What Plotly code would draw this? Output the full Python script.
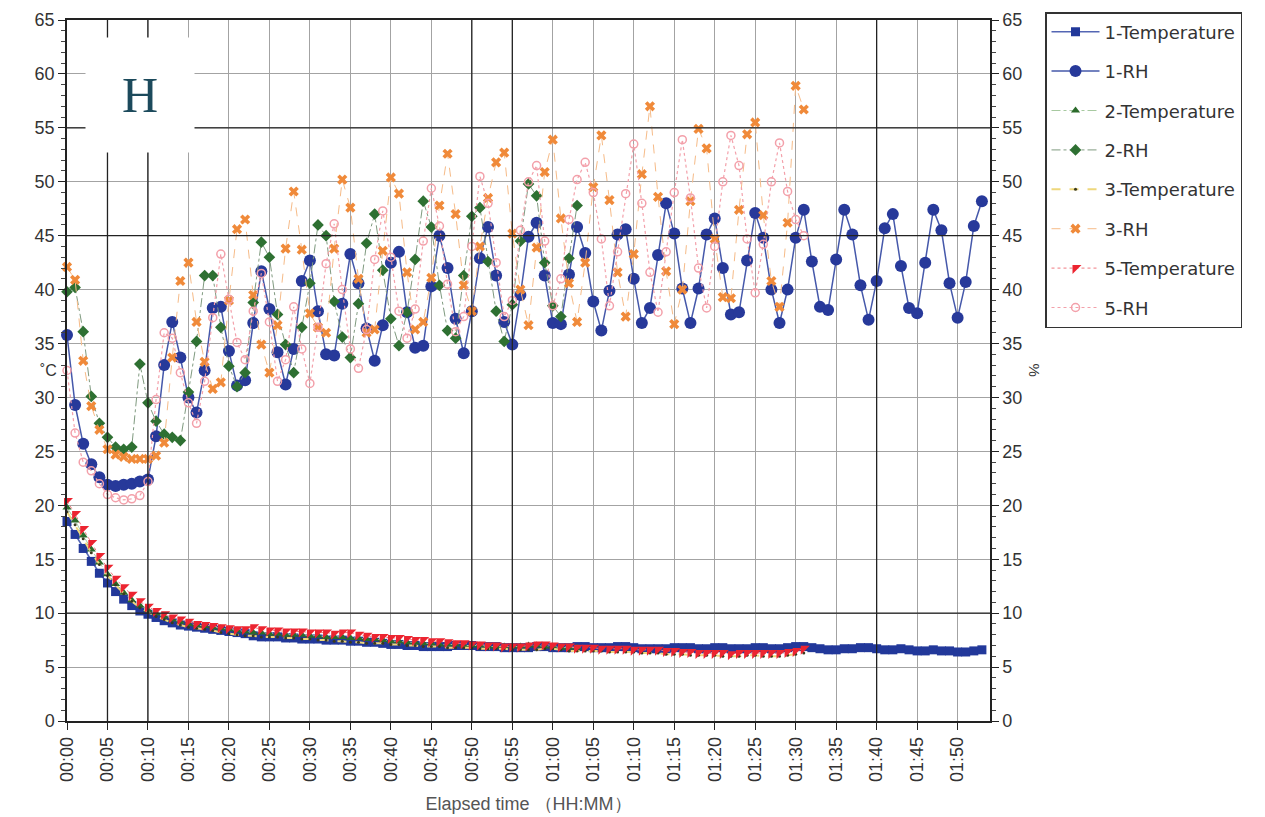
import plotly.graph_objects as go

# Elapsed time in minutes for each sample
minutes_full = list(range(0, 114))
minutes_2 = list(range(0, 64))
minutes_35 = list(range(0, 92))

tick_minutes = [0, 5, 10, 15, 20, 25, 30, 35, 40, 45, 50, 55,
                60, 65, 70, 75, 80, 85, 90, 95, 100, 105, 110]
tick_labels = ["00:00", "00:05", "00:10", "00:15", "00:20", "00:25", "00:30",
               "00:35", "00:40", "00:45", "00:50", "00:55", "01:00", "01:05",
               "01:10", "01:15", "01:20", "01:25", "01:30", "01:35", "01:40",
               "01:45", "01:50"]
y_ticks = [0, 5, 10, 15, 20, 25, 30, 35, 40, 45, 50, 55, 60, 65]

# Sensor 1
temp_1 = [18.5, 17.3, 16.0, 14.8, 13.7, 12.8, 12.0, 11.3, 10.7, 10.2,
          9.9, 9.6, 9.3, 9.1, 8.9, 8.8, 8.7, 8.6, 8.5, 8.4,
          8.3, 8.2, 8.1, 7.9, 7.8, 7.8, 7.8, 7.7, 7.7, 7.6,
          7.6, 7.6, 7.5, 7.5, 7.5, 7.4, 7.4, 7.3, 7.3, 7.2,
          7.1, 7.1, 7.0, 7.0, 6.9, 6.9, 6.9, 6.9, 7.0, 7.0,
          7.0, 6.9, 6.9, 6.9, 6.8, 6.8, 6.8, 6.8, 6.9, 6.9,
          6.8, 6.8, 6.8, 6.9, 6.9, 6.8, 6.8, 6.8, 6.9, 6.9,
          6.8, 6.7, 6.7, 6.7, 6.7, 6.8, 6.8, 6.8, 6.7, 6.7,
          6.8, 6.8, 6.7, 6.7, 6.7, 6.8, 6.8, 6.7, 6.7, 6.8,
          6.9, 6.9, 6.8, 6.7, 6.6, 6.6, 6.7, 6.7, 6.8, 6.8,
          6.7, 6.6, 6.6, 6.7, 6.6, 6.5, 6.5, 6.6, 6.5, 6.5,
          6.4, 6.4, 6.5, 6.6]
rh_1 = [35.8, 29.3, 25.7, 23.8, 22.6, 21.9, 21.8, 21.9, 22.0, 22.2,
        22.4, 26.4, 33.0, 37.0, 33.7, 30.0, 28.6, 32.5, 38.3, 38.4,
        34.3, 31.1, 31.6, 36.9, 41.7, 38.2, 34.2, 31.2, 34.5, 40.8,
        42.7, 38.0, 34.0, 33.9, 38.7, 43.3, 40.6, 36.4, 33.4, 36.7,
        42.5, 43.5, 37.9, 34.6, 34.8, 40.3, 45.0, 42.0, 37.3, 34.1,
        38.0, 42.9, 45.8, 41.3, 37.0, 34.9, 39.5, 44.9, 46.2, 41.3,
        36.9, 36.8, 41.4, 45.8, 43.4, 38.9, 36.2, 39.9, 45.1, 45.6,
        41.0, 36.9, 38.3, 43.2, 48.0, 45.2, 40.1, 36.9, 40.1, 45.1,
        46.6, 42.0, 37.7, 37.9, 42.7, 47.1, 44.8, 40.0, 36.9, 40.0,
        44.8, 47.4, 42.6, 38.4, 38.1, 42.8, 47.4, 45.1, 40.4, 37.2,
        40.8, 45.7, 47.0, 42.2, 38.3, 37.8, 42.5, 47.4, 45.5, 40.6,
        37.4, 40.7, 45.9, 48.2]

# Sensor 2
temp_2 = [19.8, 18.6, 17.2, 15.9, 14.7, 13.6, 12.7, 11.9, 11.2, 10.7,
          10.3, 10.0, 9.7, 9.4, 9.2, 9.0, 8.9, 8.8, 8.7, 8.6,
          8.5, 8.4, 8.3, 8.2, 8.2, 8.1, 8.1, 8.0, 8.0, 8.0,
          7.9, 7.9, 7.8, 7.8, 7.8, 7.7, 7.7, 7.6, 7.6, 7.5,
          7.4, 7.4, 7.3, 7.3, 7.2, 7.2, 7.1, 7.1, 7.1, 7.0,
          7.0, 7.0, 6.9, 6.9, 6.9, 6.9, 6.9, 7.0, 7.0, 6.9,
          6.9, 6.8, 6.8, 6.8]
rh_2 = [39.8, 40.2, 36.1, 30.1, 27.6, 26.3, 25.4, 25.2, 25.4, 33.1,
        29.5, 27.8, 26.6, 26.3, 26.0, 30.5, 35.2, 41.3, 41.3, 36.5,
        32.9, 31.0, 32.3, 38.8, 44.4, 43.0, 37.7, 34.9, 32.3, 36.5,
        40.6, 46.0, 45.0, 38.9, 35.6, 33.7, 38.7, 44.3, 47.0, 41.8,
        37.3, 34.8, 37.9, 42.8, 48.2, 45.8, 40.4, 36.2, 35.5, 41.3,
        46.8, 47.6, 42.6, 38.0, 35.2, 38.6, 44.5, 49.8, 48.7, 42.5,
        38.5, 37.5, 42.9, 47.8]

# Sensor 3
temp_3 = [19.4, 18.2, 16.9, 15.6, 14.5, 13.5, 12.6, 11.8, 11.1, 10.5,
          10.1, 9.7, 9.4, 9.1, 8.9, 8.7, 8.6, 8.5, 8.4, 8.2,
          8.1, 8.0, 7.9, 7.9, 7.8, 7.8, 7.8, 7.7, 7.7, 7.6,
          7.6, 7.5, 7.5, 7.4, 7.4, 7.3, 7.3, 7.2, 7.2, 7.2,
          7.1, 7.1, 7.0, 7.0, 6.9, 6.9, 6.9, 6.8, 6.8, 6.8,
          6.8, 6.7, 6.7, 6.7, 6.7, 6.6, 6.6, 6.6, 6.6, 6.7,
          6.7, 6.6, 6.5, 6.5, 6.5, 6.5, 6.5, 6.4, 6.4, 6.4,
          6.4, 6.3, 6.3, 6.3, 6.2, 6.2, 6.2, 6.1, 6.1, 6.1,
          6.1, 6.0, 6.0, 6.0, 6.1, 6.1, 6.0, 6.0, 6.0, 6.1,
          6.2, 6.3]
rh_3 = [42.1, 40.9, 33.4, 29.2, 27.0, 25.2, 24.7, 24.5, 24.3, 24.3,
        24.3, 24.6, 25.8, 33.7, 40.8, 42.5, 37.0, 33.3, 30.8, 31.4,
        39.0, 45.6, 46.5, 39.5, 34.9, 32.3, 36.7, 43.8, 49.1, 43.7,
        37.8, 36.5, 36.0, 43.8, 50.2, 47.6, 41.0, 36.0, 36.3, 43.6,
        50.4, 48.9, 41.6, 36.3, 37.0, 41.1, 47.8, 52.6, 47.0, 40.4,
        38.0, 44.0, 48.5, 51.8, 52.7, 45.2, 40.0, 36.7, 43.9, 50.9,
        53.9, 46.6, 40.6, 37.0, 42.5, 49.5, 54.3, 48.3, 41.6, 37.5,
        43.3, 50.7, 57.0, 48.6, 41.7, 36.8, 40.0, 48.2, 54.9, 53.1,
        44.7, 39.3, 39.2, 47.4, 54.4, 55.5, 46.9, 40.8, 38.4, 46.2,
        58.9, 56.7]

# Sensor 5
temp_5 = [20.4, 19.2, 17.8, 16.5, 15.3, 14.2, 13.2, 12.4, 11.7, 11.1,
          10.6, 10.2, 9.9, 9.6, 9.4, 9.2, 9.0, 8.9, 8.8, 8.7,
          8.6, 8.5, 8.5, 8.7, 8.5, 8.4, 8.4, 8.3, 8.3, 8.3,
          8.2, 8.2, 8.2, 8.1, 8.2, 8.2, 8.0, 7.9, 7.8, 7.8,
          7.7, 7.7, 7.6, 7.5, 7.5, 7.4, 7.4, 7.3, 7.2, 7.2,
          7.1, 7.1, 7.0, 7.0, 6.9, 6.9, 6.9, 7.0, 7.1, 7.1,
          7.0, 6.9, 6.9, 6.8, 6.8, 6.8, 6.7, 6.7, 6.7, 6.7,
          6.6, 6.6, 6.6, 6.6, 6.5, 6.5, 6.4, 6.4, 6.3, 6.3,
          6.3, 6.3, 6.2, 6.3, 6.3, 6.3, 6.3, 6.3, 6.3, 6.4,
          6.5, 6.7]
rh_5 = [32.5, 26.7, 24.0, 23.2, 22.0, 21.0, 20.7, 20.5, 20.6, 20.9,
        22.2, 29.8, 36.0, 35.5, 32.3, 29.5, 27.6, 31.5, 37.4, 43.3,
        39.1, 35.1, 33.5, 38.0, 41.5, 37.0, 31.5, 33.5, 38.4, 34.5,
        31.3, 36.5, 42.4, 46.1, 40.0, 34.5, 32.7, 36.3, 42.8, 47.3,
        43.0, 38.0, 35.5, 38.2, 44.5, 49.4, 45.9, 40.5, 36.1, 37.5,
        44.0, 50.5, 48.0, 42.5, 37.5, 39.0, 45.5, 50.0, 51.5, 44.5,
        38.5, 41.0, 46.5, 50.2, 51.8, 49.0, 44.7, 38.5, 43.5, 48.9,
        53.5, 48.0, 41.6, 37.9, 43.5, 49.0, 53.9, 48.5, 42.0, 38.3,
        44.0, 50.0, 54.3, 51.5, 44.7, 39.7, 44.2, 50.0, 53.6, 49.1,
        46.5, 45.0]

BASE_FONT = "Liberation Sans"
LEGEND_FONT = "DejaVu Sans"

fig = go.Figure()


def add_series(name, x, y, axis, symbol, msize, mcolor, lcolor, lwidth, dash,
               open_marker=False):
    marker = dict(symbol=symbol, size=msize, color=mcolor)
    if open_marker:
        marker["line"] = dict(color=mcolor, width=1.5)
    else:
        marker["line"] = dict(width=0)
    fig.add_trace(go.Scatter(
        x=x, y=y, name=name, yaxis=axis, mode="lines+markers",
        marker=marker, line=dict(color=lcolor, width=lwidth, dash=dash),
        legendgroup=name, cliponaxis=False,
    ))


add_series("1-Temperature", minutes_full, temp_1, "y", "square", 9,
           "#22389a", "#5466b4", 1.5, "solid")
add_series("1-RH", minutes_full, rh_1, "y2", "circle", 12,
           "#27399a", "#4558aa", 1.5, "solid")
add_series("2-Temperature", minutes_2, temp_2, "y", "triangle-up", 8,
           "#2b6b2b", "#a7c9a0", 1, "dashdot")
add_series("2-RH", minutes_2, rh_2, "y2", "diamond", 9,
           "#2e7032", "#7f9a7f", 1, "dashdot")
add_series("3-Temperature", minutes_35, temp_3, "y", "circle", 3,
           "#3b3b1e", "#eed77c", 2, "dash")
add_series("3-RH", minutes_35, rh_3, "y2", "x", 9,
           "#f08a3a", "#f6bb88", 1, "dash")
add_series("5-Temperature", minutes_35, temp_5, "y", "triangle-nw", 10,
           "#ec2430", "#f07a80", 1, "dot")
add_series("5-RH", minutes_35, rh_5, "y2", "circle-open", 8,
           "#f3a0aa", "#f3a0aa", 1.2, "dot", open_marker=True)

grid_color = "#a3a3a3"
axis_font = dict(family=BASE_FONT, size=18, color="#333333")

fig.update_layout(
    width=1265, height=817,
    margin=dict(l=67, r=275, t=20, b=96, autoexpand=False),
    paper_bgcolor="white", plot_bgcolor="white",
    font=dict(family=BASE_FONT, color="#333333"),
    xaxis=dict(
        range=[0, 114], tickmode="array", tickvals=tick_minutes,
        ticktext=tick_labels, tickangle=-90, tickfont=axis_font,
        showgrid=True, gridcolor=grid_color, gridwidth=1,
        showline=True, linecolor="#222222", linewidth=1.5, mirror=True,
        ticks="outside", ticklen=7, tickcolor="#222222",
        zeroline=False, automargin=False,
        title=dict(text="Elapsed time （HH:MM）", standoff=16,
                   font=dict(family=BASE_FONT, size=18, color="#555555")),
    ),
    yaxis=dict(
        range=[0, 65], tickmode="array", tickvals=y_ticks, tickfont=axis_font,
        showgrid=True, gridcolor=grid_color, gridwidth=1,
        showline=True, linecolor="#222222", linewidth=1.5,
        ticks="outside", ticklen=7, tickcolor="#222222", zeroline=False,
        automargin=False,
        minor=dict(dtick=1, ticks="outside", ticklen=4, tickcolor="#444444",
                   showgrid=False),
    ),
    yaxis2=dict(
        range=[0, 65], tickmode="array", tickvals=y_ticks, tickfont=axis_font,
        overlaying="y", side="right", showgrid=False,
        showline=True, linecolor="#222222", linewidth=1.5,
        ticks="outside", ticklen=7, tickcolor="#222222", zeroline=False,
        automargin=False,
        minor=dict(dtick=1, ticks="outside", ticklen=4, tickcolor="#444444"),
    ),
    legend=dict(
        x=1.0596, y=1.0114, xanchor="left", yanchor="top",
        bordercolor="#333333", borderwidth=1.5, bgcolor="white",
        font=dict(family=LEGEND_FONT, size=18, color="#333333"),
        tracegroupgap=13, itemwidth=48,
    ),
)

# Heavier reference lines on part of the grid
for xm in [5, 10, 50, 55, 100]:
    fig.add_shape(type="line", xref="x", yref="paper", x0=xm, x1=xm,
                  y0=0, y1=1, line=dict(color="#222222", width=1.3),
                  layer="above")
for yv in [10, 45, 55]:
    fig.add_shape(type="line", xref="paper", yref="y", x0=0, x1=1,
                  y0=yv, y1=yv, line=dict(color="#222222", width=1.3),
                  layer="above")

# Panel letter on a white patch
fig.add_annotation(
    text="H", xref="paper", yref="paper", x=0.079, y=0.893,
    xanchor="center", yanchor="middle",
    showarrow=False, width=106, height=112, bgcolor="white",
    font=dict(family="Liberation Serif", size=50, color="#1c4a5c"),
)

# Unit labels beside the axes
fig.add_annotation(text="˚C", xref="paper", yref="paper",
                   x=-0.02, y=0.5, showarrow=False, xanchor="center",
                   yanchor="middle",
                   font=dict(family=BASE_FONT, size=16, color="#333333"))
fig.add_annotation(text="%", xref="paper", yref="paper",
                   x=1.0487, y=0.50, showarrow=False, textangle=90,
                   xanchor="center", yanchor="middle",
                   font=dict(family=BASE_FONT, size=15, color="#333333"))

fig.write_html("out.html")
